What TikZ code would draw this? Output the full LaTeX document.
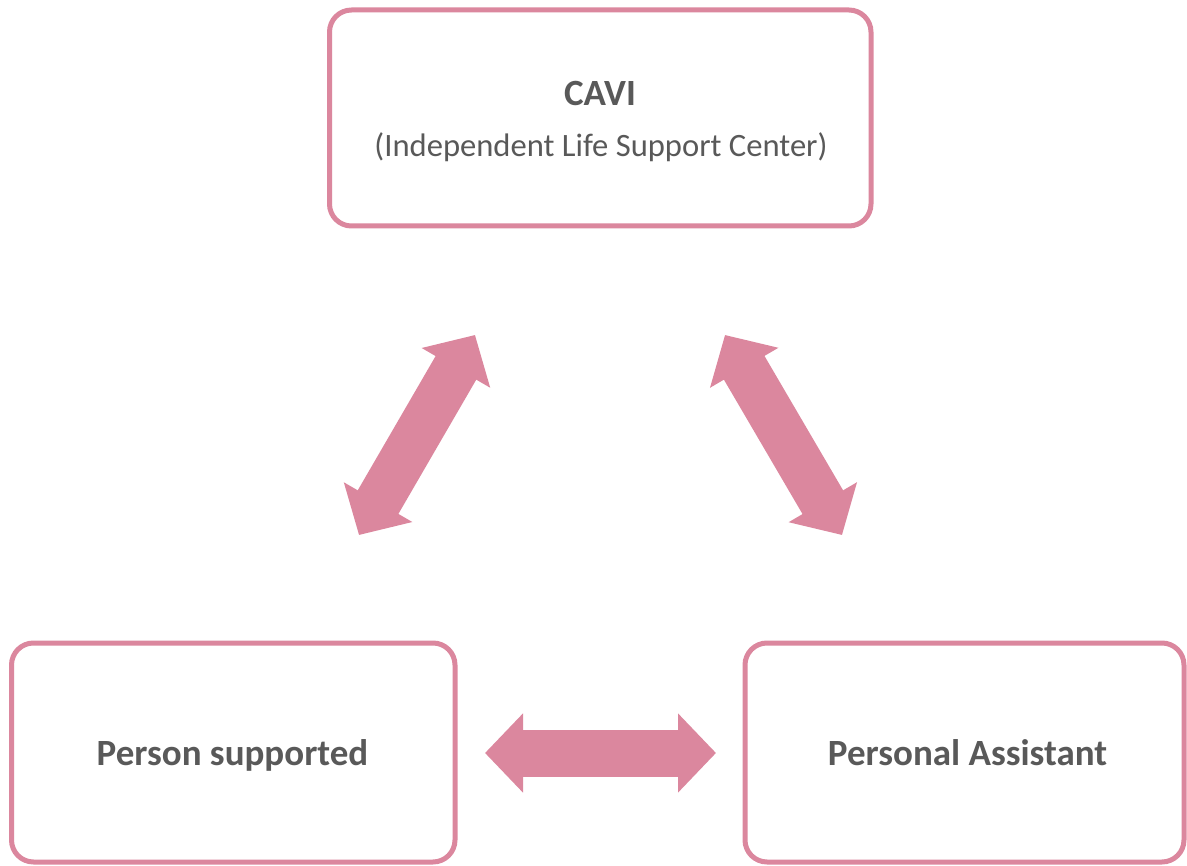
\documentclass[tikz,border=0pt]{standalone}
\usepackage{fontspec}
\setmainfont{Carlito}
\usetikzlibrary{arrows.meta}
\definecolor{rose}{RGB}{219,135,158}
\definecolor{inkgray}{RGB}{89,89,89}
\begin{document}
\begin{tikzpicture}[x=1pt,y=-1pt,
  card/.style={draw=rose, line width=5pt, rounded corners=22pt, fill=white},
  title/.style={text=inkgray, anchor=base, inner sep=0pt, font=\bfseries\fontsize{37}{44}\selectfont},
  subtitle/.style={text=inkgray, anchor=base, inner sep=0pt, font=\fontsize{32.6}{39}\selectfont},
  link/.style={draw=rose, line width=47pt,
    {Triangle[length=38pt,width=77pt]}-{Triangle[length=38pt,width=77pt]}}]
  \useasboundingbox (0,0) rectangle (1187,866);

  % three boxes
  \draw[card] (329.5,10) rectangle (871,226);
  \draw[card] (11.5,643) rectangle (455,862);
  \draw[card] (745,643) rectangle (1184,862);

  % box texts (placed on their baselines)
  \node[title] (cavi) at (600,105.5) {CAVI};
  \node[subtitle] (cavisub) at (601,156.5) {(Independent Life Support Center)};
  \node[title] (person) at (232.5,765.5) {Person supported};
  \node[title] (assistant) at (967.5,765.5) {Personal Assistant};

  % arrow end points
  \coordinate (l1) at (359,535);
  \coordinate (l2) at (475,335);
  \coordinate (r1) at (725,335);
  \coordinate (r2) at (842,535);
  \coordinate (h1) at (485,753);
  \coordinate (h2) at (716,753);

  % double-headed block arrows
  \draw[link] (l1) -- (l2);
  \draw[link] (r1) -- (r2);
  \draw[link] (h1) -- (h2);
\end{tikzpicture}
\end{document}
